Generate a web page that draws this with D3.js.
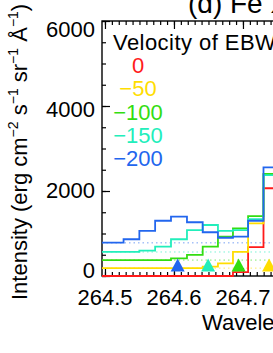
<!DOCTYPE html>
<html>
<head>
<meta charset="utf-8">
<script src="https://cdn.jsdelivr.net/npm/d3@7"></script>
<style>
  html, body { margin: 0; padding: 0; background: #fff; overflow: hidden; }
  svg { display: block; font-family: "Liberation Sans", Arial, Helvetica, sans-serif; }
</style>
</head>
<body>
<div id="chart"></div>
<script>
/* Fe XIV profiles for several EBW velocities, IDL-style histogram plot */

// bin centres (Å)
const wavelengths = [264.4929, 264.5155, 264.5384, 264.5613, 264.5841, 264.6073, 264.6304,
                     264.6529, 264.6746, 264.6964, 264.7185, 264.7410, 264.7636];

const velocities = [0, -50, -100, -150, -200];   // km/s
const colors     = ["#ff1a1a", "#ffdd00", "#33dd11", "#22eebb", "#2266ee"];

// intensity per bin (erg cm-2 s-1 sr-1 Å-1), each curve already offset
const intensity0    = [0, 0, 0, 0, 0, 0, 0, 0, 0, 90, 680, 2065, 2065];
const intensity50   = [185, 185, 185, 185, 185, 185, 185, 220, 295, 570, 1240, 2390, 2390];
const intensity100  = [375, 375, 375, 375, 375, 415, 495, 690, 925, 1120, 1410, 2400, 2400];
const intensity150  = [570, 570, 570, 595, 690, 865, 1080, 1200, 1060, 1080, 1335, 2375, 2375];
const intensity200  = [785, 785, 865, 1060, 1300, 1395, 1265, 1030, 900, 925, 1300, 2555, 2555];
const offsets       = [0, 185, 375, 565, 780];   // dotted background levels

const yTicks = [0, 2000, 4000, 6000];
const xTicks = [264.5, 264.6, 264.7];
const restWavelength = 264.782;  // Å, line centre
const C_KMS = 299792.458;

const W = 273, H = 353;
const L = 102, R = 400, T = 21, B = 276;   // frame (right side runs off the crop)

const series = [intensity0, intensity50, intensity100, intensity150, intensity200];

const svg = d3.select("#chart").append("svg")
  .attr("width", W).attr("height", H)
  .attr("viewBox", `0 0 ${W} ${H}`);

svg.append("rect").attr("width", W).attr("height", H).attr("fill", "#fff");

const x = d3.scaleLinear().domain([264.4957, 264.9276]).range([L, R]);
const y = d3.scaleLinear().domain([0, 6000]).range([B, T]);
const yLab = d3.scaleLinear().domain([0, 6000]).range([270, 29]);  // label centres as printed

svg.append("defs").append("clipPath").attr("id", "plot-clip")
  .append("rect").attr("x", L).attr("y", T - 2).attr("width", R - L).attr("height", B - T + 3);

// ── frame + ticks ──
const frame = svg.append("g");
frame.append("rect")
  .attr("x", L).attr("y", T).attr("width", R - L).attr("height", B - T)
  .attr("fill", "none").attr("stroke", "#000").attr("stroke-width", 1.4);

const xMinor = x.ticks(45).filter(v => v > x.domain()[0]);
const yMinor = d3.range(0, 6001, 500);

function tickAxis(axis, tr) {
  const g = frame.append("g").attr("transform", tr).call(axis);
  g.select(".domain").remove();
  g.selectAll("line").attr("stroke", "#000").attr("stroke-width", 1.2);
  g.selectAll("text").remove();
}
tickAxis(d3.axisBottom(x).tickValues(xMinor).tickSize(-4), `translate(0,${B})`);
tickAxis(d3.axisBottom(x).tickValues(xTicks).tickSize(-8), `translate(0,${B})`);
tickAxis(d3.axisTop(x).tickValues(xMinor).tickSize(-4), `translate(0,${T})`);
tickAxis(d3.axisTop(x).tickValues(xTicks).tickSize(-8), `translate(0,${T})`);
tickAxis(d3.axisLeft(y).tickValues(yMinor).tickSize(-4), `translate(${L},0)`);
tickAxis(d3.axisLeft(y).tickValues(yTicks).tickSize(-8), `translate(${L},0)`);

// tick labels
svg.append("g").selectAll("text").data(yTicks).join("text")
  .attr("x", 95).attr("y", d => yLab(d) + 8)
  .attr("text-anchor", "end").attr("font-size", 22).attr("fill", "#000")
  .text(d => d);

svg.append("g").selectAll("text").data(xTicks).join("text")
  .attr("x", d => x(d)).attr("y", 305)
  .attr("text-anchor", "middle").attr("font-size", 22).attr("fill", "#000")
  .text(d => d3.format(".1f")(d));

svg.append("text").attr("x", 202).attr("y", 330)
  .attr("font-size", 22).attr("fill", "#000").text("Wavelength (Å)");

// y title with superscripts
const yt = svg.append("text")
  .attr("transform", "translate(27,300) rotate(-90)")
  .attr("font-size", 22).attr("fill", "#000");
const parts = [["Intensity (erg cm", false], ["−2", true], [" s", false], ["−1", true],
               [" sr", false], ["−1", true], [" Å", false], ["−1", true], [")", false]];
parts.forEach(([t, sup]) => {
  yt.append("tspan")
    .attr("font-size", sup ? 14 : 22)
    .attr("dy", sup ? -9 : 9)
    .text(t);
});
yt.select("tspan").attr("dy", 0);

// panel title
svg.append("text").attr("x", 188).attr("y", 13)
  .attr("font-size", 28).attr("fill", "#000").text("(d) Fe XIV 264.79 Å");

// ── data ──
const plot = svg.append("g").attr("clip-path", "url(#plot-clip)");

plot.append("g").selectAll("line").data(offsets.slice(1)).join("line")
  .attr("x1", L).attr("x2", R)
  .attr("y1", d => y(d)).attr("y2", d => y(d))
  .attr("stroke", (d, i) => colors[i + 1])
  .attr("stroke-width", 1)
  .attr("stroke-dasharray", "1.5,3")
  .attr("opacity", 0.6);

const line = d3.line()
  .x((d, i) => x(wavelengths[i]))
  .y(d => y(d))
  .curve(d3.curveStep);

plot.append("g").selectAll("path").data(series).join("path")
  .attr("d", d => line(d))
  .attr("fill", "none")
  .attr("stroke", (d, i) => colors[i])
  .attr("stroke-width", 1.8);

// Doppler-shift markers
const triW = 14, triH = 13;
svg.append("g").selectAll("path").data(velocities).join("path")
  .attr("transform", v => `translate(${x(restWavelength * (1 + v / C_KMS))},${y(0) - 4.5})`)
  .attr("d", `M${-triW / 2},0 L${triW / 2},0 L0,${-triH} Z`)
  .attr("fill", (v, i) => colors[i]);

// legend
const leg = svg.append("g");
leg.append("text").attr("x", 113).attr("y", 50)
  .attr("font-size", 22).attr("letter-spacing", 0.45)
  .attr("fill", "#000").text("Velocity of EBW");
leg.selectAll("text.v").data(velocities).join("text").attr("class", "v")
  .attr("x", 138).attr("y", (d, i) => 73 + i * 23.3)
  .attr("text-anchor", "middle").attr("font-size", 22)
  .attr("fill", (d, i) => colors[i])
  .text(d => d < 0 ? "−" + Math.abs(d) : d);
</script>
</body>
</html>
